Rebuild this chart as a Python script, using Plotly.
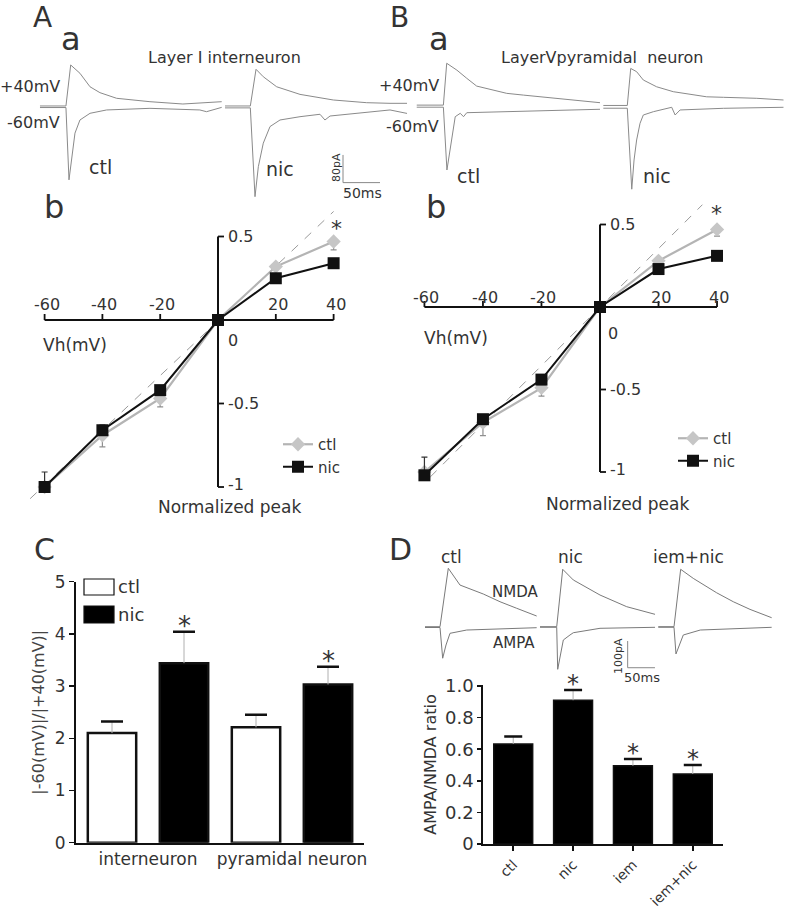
import numpy as np
import plotly.graph_objects as go

W, H = 787, 910
FONT = "DejaVu Sans"
TXT = "#333"
TRACE_C = "#8a8a8a"

# ---------------- Panel A a / B a : example currents (ms from trace start, pA) -------------
A_CTL_P40_T = [0, 35.1, 41.5, 54, 67.6, 81, 103.6, 148.6, 193, 245.5]
A_CTL_P40_I = [1.5, 1.5, 120, 96, 57, 40, 23.7, 13.9, 7.2, 13.9]
A_CTL_M60_T = [0, 35.1, 39.2, 42.8, 47.3, 54, 67.6, 90, 148.6, 216, 225, 245.5]
A_CTL_M60_I = [-3, -3, -212, -145, -77, -39, -19.7, -10, -5.3, -10, -15, -2.5]
A_NIC_P40_T = [0, 34.2, 41.9, 51.7, 69.8, 101.3, 146.3, 191.4, 222.9, 245.9]
A_NIC_P40_I = [1.5, 1.5, 107.5, 86, 57, 35, 18.8, 11, 9.2, 9.2]
A_NIC_M60_T = [0, 34.2, 40.5, 45, 51.7, 60.8, 74.3, 101.3, 128.3, 135, 141.9, 191.4, 222.9, 245.9]
A_NIC_M60_I = [-4, -4, -260.7, -174, -106, -58, -39, -29.5, -22.5, -39, -27.5, -17.9, -10, -20]

B_CTL_P40_T = [0, 36, 40.5, 54.3, 67.6, 81, 99, 121.6, 144, 166.6, 189, 211.6, 234, 247.6]
B_CTL_P40_I = [4, 4, 125, 105, 81.5, 59, 49.7, 38, 33, 28, 23.7, 18.8, 14, 11]
B_CTL_M60_T = [0, 36, 40.8, 44.3, 47.6, 52, 58.8, 63.2, 67.6, 121.6, 189, 247.6]
B_CTL_M60_I = [-2, -2, -183.5, -135, -77.5, -29.5, -19.7, -29.5, -17.9, -15, -10, -8]
B_NIC_P40_T = [0, 32.4, 37, 45, 54, 72, 94.5, 117, 139.6, 162.2, 207.3, 243.4]
B_NIC_P40_I = [3, 3, 110, 100.6, 76.6, 57, 42.8, 36, 28, 26.6, 23.7, 18.8]
B_NIC_M60_T = [0, 32.4, 38.4, 41.5, 45, 49.6, 54, 67.6, 92.4, 97, 103.7, 162.2, 243.4]
B_NIC_M60_I = [-5, -5, -239, -154.6, -96.8, -48.6, -24.6, -15, -2.3, -24.6, -10, -5.2, -2.3]

SCALE_A = dict(pA=80, ms=50)

# ---------------- Panel D : example NMDA / AMPA currents (ms, pA) ----------------
D_CTL_NMDA_T = [0, 27.5, 42.7, 64.1, 106.8, 137.4, 168, 204.6]
D_CTL_NMDA_I = [0, 0, 218.7, 156, 122.5, 93.6, 69, 40]
D_CTL_AMPA_T = [0, 27.5, 32.4, 38.5, 45.8, 76.4, 204.6]
D_CTL_AMPA_I = [-3, -3, -118, -68.5, -24.7, -12.4, -3.7]
D_NIC_NMDA_T = [0, 30.6, 41.6, 61, 109.9, 158.8, 210.7]
D_NIC_NMDA_I = [0, 0, 215, 175, 118.7, 75, 46.4]
D_NIC_AMPA_T = [0, 30.6, 32.4, 42.7, 54.9, 61, 109.9, 210.7]
D_NIC_AMPA_I = [-2, -2, -159.5, -49.8, -31, -22.5, -6, -2.2]
D_IEM_NMDA_T = [0, 28.8, 41, 64.1, 107, 137.4, 168, 207.7]
D_IEM_NMDA_I = [0, 0, 215, 181, 127, 93.6, 65, 33.7]
D_IEM_AMPA_T = [0, 28.8, 32.4, 45.8, 76.9, 207.7]
D_IEM_AMPA_I = [-2, -2, -102, -31, -12.4, -2.2]

SCALE_D = dict(pA=100, ms=50)

# ---------------- Panel A b / B b : I-V curves ----------------
VH = [-60, -40, -20, 0, 20, 40]
A_IV_CTL = [-1.0, -0.69, -0.47, 0, 0.32, 0.47]
A_IV_CTL_ERR = [0, 0.07, 0.05, 0, 0, 0.05]
A_IV_NIC = [-1.0, -0.66, -0.42, 0, 0.25, 0.34]
A_IV_NIC_ERR = [0.09, 0.03, 0, 0, 0, 0]
A_REF_V = [-65, 40]
A_REF_I = [-1.07, 0.65]

B_IV_CTL = [-1.0, -0.70, -0.49, 0, 0.28, 0.47]
B_IV_CTL_ERR = [0, 0.08, 0.05, 0, 0, 0.04]
B_IV_NIC = [-1.02, -0.68, -0.44, 0, 0.23, 0.31]
B_IV_NIC_ERR = [0.11, 0, 0, 0, 0, 0]
B_REF_V = [-58, 35]
B_REF_I = [-1.03, 0.62]

IV_XTICKS = [-60, -40, -20, 20, 40]
IV_YTICKS = [0.5, -0.5, -1]
IV_YTICKTEXT = ["0.5", "-0.5", "-1"]

# ---------------- Panel C : rectification ratio ----------------
C_GROUPS = ["interneuron", "pyramidal neuron"]
C_CTL = [2.10, 2.21]
C_CTL_ERR = [0.22, 0.24]
C_NIC = [3.44, 3.03]
C_NIC_ERR = [0.60, 0.34]

# ---------------- Panel D : AMPA/NMDA ratio ----------------
D_CONDS = ["ctl", "nic", "iem", "iem+nic"]
D_RATIO = [0.633, 0.91, 0.495, 0.443]
D_ERR = [0.047, 0.065, 0.043, 0.057]


def PX(x):
    return x / W


def PY(y):
    return 1 - y / H


fig = go.Figure()


def line_trace(t, i, off, xa, ya, color=TRACE_C):
    fig.add_trace(go.Scatter(x=np.add(t, off), y=i, xaxis=xa, yaxis=ya, mode="lines",
                             line=dict(color=color, width=1), showlegend=False,
                             hoverinfo="skip"))


# top traces
for t, i, off in [(A_CTL_P40_T, A_CTL_P40_I, 54.0), (A_CTL_M60_T, A_CTL_M60_I, 54.0),
                  (A_NIC_P40_T, A_NIC_P40_I, 304.0), (A_NIC_M60_T, A_NIC_M60_I, 304.0),
                  (B_CTL_P40_T, B_CTL_P40_I, 563.0), (B_CTL_M60_T, B_CTL_M60_I, 563.0),
                  (B_NIC_P40_T, B_NIC_P40_I, 815.1), (B_NIC_M60_T, B_NIC_M60_I, 815.1)]:
    line_trace(t, i, off, "x", "y")

# D traces
for t, i, off in [(D_CTL_NMDA_T, D_CTL_NMDA_I, 45.8), (D_CTL_AMPA_T, D_CTL_AMPA_I, 45.8),
                  (D_NIC_NMDA_T, D_NIC_NMDA_I, 256.5), (D_NIC_AMPA_T, D_NIC_AMPA_I, 256.5),
                  (D_IEM_NMDA_T, D_IEM_NMDA_I, 473.2), (D_IEM_AMPA_T, D_IEM_AMPA_I, 473.2)]:
    line_trace(t, i, off, "x2", "y2", color="#7a7a7a")


# I-V panels
def add_iv(xa, ya, ctl, ctl_err, nic, nic_err, refv, refi, leg):
    fig.add_trace(go.Scatter(x=refv, y=refi, xaxis=xa, yaxis=ya, mode="lines",
                             line=dict(color="#9a9a9a", width=1, dash="dash"),
                             showlegend=False, hoverinfo="skip"))
    fig.add_trace(go.Scatter(x=VH, y=ctl, xaxis=xa, yaxis=ya, mode="lines+markers", name="ctl",
                             line=dict(color="#b4b4b4", width=2.2),
                             marker=dict(symbol="diamond", size=11, color="#c6c6c6"),
                             error_y=dict(type="data", symmetric=False, array=[0] * len(VH),
                                          arrayminus=ctl_err, color="#909090", thickness=1.2, width=3),
                             legend=leg, cliponaxis=False))
    fig.add_trace(go.Scatter(x=VH, y=nic, xaxis=xa, yaxis=ya, mode="lines+markers", name="nic",
                             line=dict(color="#111", width=2),
                             marker=dict(symbol="square", size=12, color="#111"),
                             error_y=dict(type="data", symmetric=False, array=nic_err,
                                          arrayminus=[0] * len(VH), color="#333", thickness=1.2, width=3),
                             legend=leg, cliponaxis=False))


add_iv("x5", "y5", A_IV_CTL, A_IV_CTL_ERR, A_IV_NIC, A_IV_NIC_ERR, A_REF_V, A_REF_I, "legend")
add_iv("x6", "y6", B_IV_CTL, B_IV_CTL_ERR, B_IV_NIC, B_IV_NIC_ERR, B_REF_V, B_REF_I, "legend2")


def up_err(arr, color, thick, width):
    return dict(type="data", symmetric=False, array=arr, arrayminus=[0] * len(arr),
                color=color, thickness=thick, width=width)


# Panel C bars
C_W = 0.336
fig.add_trace(go.Bar(x=C_GROUPS, y=C_CTL, xaxis="x4", yaxis="y4", width=C_W, offset=-0.25 - C_W / 2,
                     marker=dict(color="white", line=dict(color="#111", width=2.5)),
                     error_y=up_err(C_CTL_ERR, "#b0b0b0", 1, 0), showlegend=False, name="ctl"))
fig.add_trace(go.Bar(x=C_GROUPS, y=C_NIC, xaxis="x4", yaxis="y4", width=C_W, offset=0.25 - C_W / 2,
                     marker=dict(color="#000", line=dict(color="#111", width=2.5)),
                     error_y=up_err(C_NIC_ERR, "#b0b0b0", 1, 0), showlegend=False, name="nic"))
# caps of the error bars
for vals, errs, off in [(C_CTL, C_CTL_ERR, -0.25 - C_W / 2), (C_NIC, C_NIC_ERR, 0.25 - C_W / 2)]:
    fig.add_trace(go.Bar(x=C_GROUPS, y=np.add(vals, errs), xaxis="x4", yaxis="y4", width=C_W, offset=off,
                         marker=dict(color="rgba(0,0,0,0)", line=dict(width=0)),
                         error_y=up_err([0] * len(vals), "#111", 2.5, 11),
                         showlegend=False, hoverinfo="skip"))

# Panel D bars
fig.add_trace(go.Bar(x=D_CONDS, y=D_RATIO, xaxis="x3", yaxis="y3", width=0.65,
                     marker=dict(color="#000", line=dict(color="#111", width=1.5)),
                     error_y=up_err(D_ERR, "#b0b0b0", 1, 0), showlegend=False))
fig.add_trace(go.Bar(x=D_CONDS, y=np.add(D_RATIO, D_ERR), xaxis="x3", yaxis="y3", width=0.65,
                     marker=dict(color="rgba(0,0,0,0)", line=dict(width=0)),
                     error_y=up_err([0] * len(D_RATIO), "#111", 2.5, 9),
                     showlegend=False, hoverinfo="skip"))

# ---------------- shapes ----------------
shapes = []
AX = dict(color="#111", width=2)


def iv_axes(xa, ya):
    shapes.append(dict(type="line", xref=xa, yref=ya, x0=VH[0], x1=VH[-1], y0=0, y1=0, line=AX))
    shapes.append(dict(type="line", xref=xa, yref=ya, x0=0, x1=0, y0=min(IV_YTICKS), y1=max(IV_YTICKS), line=AX))
    for v in IV_XTICKS:
        shapes.append(dict(type="line", xref=xa, yref=ya, x0=v, x1=v, ysizemode="pixel", yanchor=0,
                           y0=0, y1=6, line=dict(color="#111", width=1.8)))
    for v in IV_YTICKS:
        shapes.append(dict(type="line", xref=xa, yref=ya, y0=v, y1=v, xsizemode="pixel", xanchor=0,
                           x0=0, x1=6, line=dict(color="#111", width=1.8)))


iv_axes("x5", "y5")
iv_axes("x6", "y6")

# scale bars (data units of the trace axes)
SB = dict(color="#888", width=1)
sa_x, sa_y = 463.4, -220.0
shapes.append(dict(type="line", xref="x", yref="y", x0=sa_x, x1=sa_x, y0=sa_y, y1=sa_y + SCALE_A["pA"], line=SB))
shapes.append(dict(type="line", xref="x", yref="y", x0=sa_x, x1=sa_x + SCALE_A["ms"], y0=sa_y, y1=sa_y, line=SB))
sd_x, sd_y = 417.1, -153.6
shapes.append(dict(type="line", xref="x2", yref="y2", x0=sd_x, x1=sd_x, y0=sd_y, y1=sd_y + SCALE_D["pA"], line=SB))
shapes.append(dict(type="line", xref="x2", yref="y2", x0=sd_x, x1=sd_x + SCALE_D["ms"], y0=sd_y, y1=sd_y, line=SB))

# Panel C legend boxes
shapes.append(dict(type="rect", xref="paper", yref="paper", x0=PX(84), x1=PX(114), y0=PY(595), y1=PY(579),
                   fillcolor="white", line=dict(color="#111", width=1.2)))
shapes.append(dict(type="rect", xref="paper", yref="paper", x0=PX(84), x1=PX(114), y0=PY(623), y1=PY(606),
                   fillcolor="#000", line=dict(color="#111", width=1.2)))

# ---------------- annotations ----------------
anns = []


def ann(text, x, y, size, xanchor="center", yanchor="middle", angle=0, color=TXT):
    anns.append(dict(text=text, x=PX(x), y=PY(y), xref="paper", yref="paper", showarrow=False,
                     xanchor=xanchor, yanchor=yanchor, textangle=angle,
                     font=dict(family=FONT, size=size, color=color)))


def dann(text, x, y, xa, ya, size, xanchor="center", yanchor="middle", xshift=0, yshift=0):
    anns.append(dict(text=text, x=x, y=y, xref=xa, yref=ya, showarrow=False, xanchor=xanchor,
                     yanchor=yanchor, xshift=xshift, yshift=yshift,
                     font=dict(family=FONT, size=size, color=TXT)))


# panel letters
ann("A", 42, 17, 28)
ann("a", 71, 39, 32)
ann("B", 399, 17, 28)
ann("a", 439, 39, 32)
ann("b", 54, 207, 32)
ann("b", 436, 207, 32)
ann("C", 44, 549, 30)
ann("D", 401, 549, 30)

# top trace labels
ann("Layer Ⅰ interneuron", 224, 57, 16)
ann("LayerⅤpyramidal  neuron", 602, 57, 16)
ann("+40mV", 62, 86, 16, xanchor="right")
ann("-60mV", 62, 123, 16, xanchor="right")
ann("+40mV", 441, 85, 16, xanchor="right")
ann("-60mV", 441, 127, 16, xanchor="right")
ann("ctl", 100, 167, 19)
ann("nic", 280, 169, 19)
ann("ctl", 468, 176, 19)
ann("nic", 657, 176, 19)
ann("80pA", 336, 168, 11, angle=-90)
ann("50ms", 362, 193, 14)

# I-V tick labels
for xa, ya, ysh in [("x5", "y5", 16), ("x6", "y6", 10)]:
    for v in IV_XTICKS:
        dann(str(v), v, 0, xa, ya, 16, yshift=ysh, xshift=2)
    for v, tt in zip(IV_YTICKS, IV_YTICKTEXT):
        dann(tt, 0, v, xa, ya, 16, xanchor="left", xshift=8, yshift=3 if v == -1 else 0)
dann("0", 0, 0, "x5", "y5", 16, xshift=15, yshift=-20)
dann("0", 0, 0, "x6", "y6", 16, xshift=13, yshift=-26)
ann("Vh(mV)", 75, 345, 17)
ann("Vh(mV)", 456, 338, 17)
ann("Normalized peak", 229, 507, 17)
ann("Normalized peak", 617, 504, 17)
dann("*", 40, A_IV_CTL[-1], "x5", "y5", 22, xshift=3, yshift=13)
dann("*", 40, B_IV_CTL[-1], "x6", "y6", 22, xshift=-1, yshift=16)

# C legend text, asterisks
ann("ctl", 116, 586, 18, xanchor="left")
ann("nic", 116, 614, 18, xanchor="left")
for k, g in enumerate(C_GROUPS):
    dann("*", k + 0.25, C_NIC[k] + C_NIC_ERR[k], "x4", "y4", 26, yshift=6)

# D labels and asterisks
ann("ctl", 451, 557, 17)
ann("nic", 570, 557, 17)
ann("iem+nic", 688, 557, 17)
ann("NMDA", 515, 592, 15)
ann("AMPA", 514, 643, 15)
ann("100pA", 618, 656, 11, angle=-90)
ann("50ms", 642, 677, 13)
for k in [1, 2, 3]:
    dann("*", D_CONDS[k], D_RATIO[k] + D_ERR[k], "x3", "y3", 24, yshift=6)

# ---------------- layout ----------------
HID = dict(visible=False, showgrid=False, zeroline=False, fixedrange=True)
TF = dict(family=FONT, size=17, color=TXT)

fig.update_layout(
    width=W, height=H, margin=dict(l=0, r=0, t=0, b=0), template="none",
    paper_bgcolor="white", plot_bgcolor="rgba(0,0,0,0)", barmode="overlay",
    font=dict(family=FONT, color=TXT), hovermode=False,
    xaxis=dict(domain=[0, 1], range=[0, W * 1.351], anchor="y", **HID),
    yaxis=dict(domain=[PY(205), PY(40)], range=[-284.7, 192.2], anchor="x", **HID),
    xaxis2=dict(domain=[PX(400), 1], range=[0, 709], anchor="y2", **HID),
    yaxis2=dict(domain=[PY(690), PY(545)], range=[-237, 306], anchor="x2", **HID),
    xaxis3=dict(domain=[PX(483.3), PX(722.7)], range=[-0.5, 3.5], type="category", anchor="y3",
                showline=True, linecolor="#111", linewidth=2, ticks="outside", ticklen=5, tickwidth=1.5,
                tickcolor="#111", tickangle=-45, tickfont=dict(family=FONT, size=14, color=TXT),
                showgrid=False, zeroline=False, automargin=False, fixedrange=True),
    yaxis3=dict(domain=[PY(844), PY(685)], range=[0, 1.0063], anchor="x3",
                showline=True, linecolor="#111", linewidth=2, ticks="outside", ticklen=4, tickwidth=1.5,
                tickcolor="#111", tickvals=[0, 0.2, 0.4, 0.6, 0.8, 1.0],
                ticktext=["0", "0.2", "0.4", "0.6", "0.8", "1.0"],
                tickfont=dict(family=FONT, size=18, color=TXT),
                title=dict(text="AMPA/NMDA ratio", font=dict(family=FONT, size=16, color=TXT), standoff=4),
                showgrid=False, zeroline=False, automargin=False, fixedrange=True),
    xaxis4=dict(domain=[PX(76), PX(364)], range=[-0.5, 1.5], type="category", anchor="y4",
                showline=True, linecolor="#111", linewidth=2, ticks="", tickfont=TF,
                showgrid=False, zeroline=False, automargin=False, fixedrange=True),
    yaxis4=dict(domain=[PY(842.7), PY(581.7)], range=[0, 5], dtick=1, anchor="x4",
                showline=True, linecolor="#111", linewidth=2, ticks="outside", ticklen=5, tickwidth=1.5,
                tickcolor="#111", tickfont=TF,
                title=dict(text="|-60(mV)|/|+40(mV)|", font=dict(family=FONT, size=16, color="#444"), standoff=6),
                showgrid=False, zeroline=False, automargin=False, fixedrange=True),
    xaxis5=dict(domain=[PX(20), PX(350)], range=[-68.51, 45.67], anchor="y5", **HID),
    yaxis5=dict(domain=[PY(500), PY(195)], range=[-1.0778, 0.7485], anchor="x5", **HID),
    xaxis6=dict(domain=[PX(405), PX(740)], range=[-66.64, 47.85], anchor="y6", **HID),
    yaxis6=dict(domain=[PY(500), PY(195)], range=[-1.1697, 0.6788], anchor="x6", **HID),
    legend=dict(x=PX(278), y=PY(428), xanchor="left", yanchor="top", bgcolor="rgba(0,0,0,0)",
                font=dict(family=FONT, size=15, color=TXT), itemwidth=30, tracegroupgap=0),
    legend2=dict(x=PX(673), y=PY(422), xanchor="left", yanchor="top", bgcolor="rgba(0,0,0,0)",
                 font=dict(family=FONT, size=15, color=TXT), itemwidth=30, tracegroupgap=0),
    shapes=shapes, annotations=anns,
)

fig.write_html("out.html", config={"displayModeBar": False, "staticPlot": True},
               post_script="document.body.style.margin='0px';document.body.style.padding='0px';")
